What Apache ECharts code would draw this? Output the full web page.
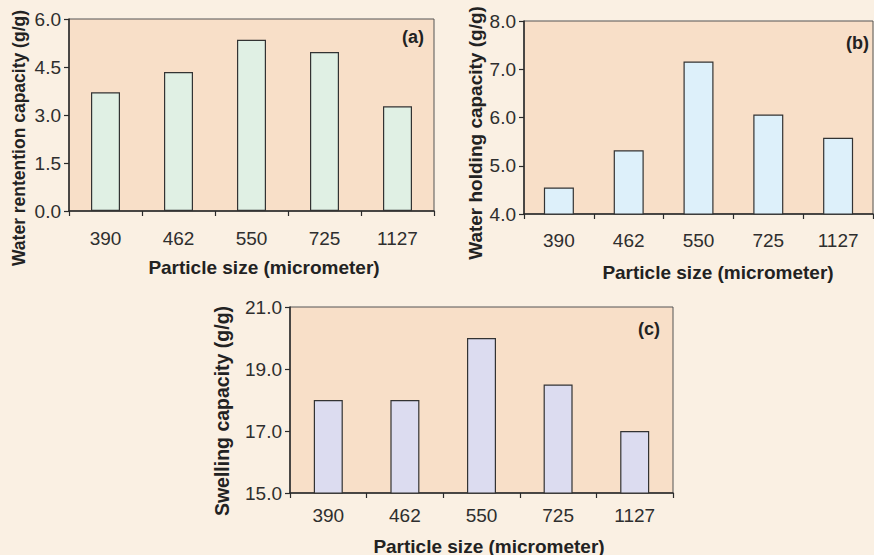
<!DOCTYPE html>
<html>
<head>
<meta charset="utf-8">
<script src="https://cdn.jsdelivr.net/npm/echarts@6/dist/echarts.min.js"></script>
<style>
html,body{margin:0;padding:0;background:#FAF0E3;}
#c{width:874px;height:555px;}
</style>
</head>
<body>
<div id="c"></div>
<script>
const categories = ['390', '462', '550', '725', '1127'];
const retentionValues = [3.71, 4.34, 5.35, 4.97, 3.27];
const holdingValues = [4.55, 5.32, 7.16, 6.06, 5.58];
const swellingValues = [18.0, 18.0, 20.0, 18.5, 17.0];
const retentionTicks = [0, 1.5, 3.0, 4.5, 6.0];
const holdingTicks = [4.0, 5.0, 6.0, 7.0, 8.0];
const swellingTicks = [15.0, 17.0, 19.0, 21.0];
const xTitle = 'Particle size (micrometer)';
const yTitles = ['Water rentention capacity (g/g)', 'Water holding capacity (g/g)', 'Swelling capacity (g/g)'];
const panelLabels = ['(a)', '(b)', '(c)'];

const FONT = "'Liberation Sans', Arial, Helvetica, sans-serif";
const chart = echarts.init(document.getElementById('c'), null, {renderer: 'svg'});

const grids = [
  {left: 69, top: 19, width: 365, height: 192},
  {left: 524, top: 21, width: 349, height: 193},
  {left: 290, top: 307, width: 383, height: 186}
];
const xMargins = [18, 17, 13];
const yAxisDefs = [
  {ticks: retentionTicks},
  {ticks: holdingTicks},
  {ticks: swellingTicks}
];
const barColors = ['#E0F0E4', '#DDF0FA', '#DCDCF0'];
const seriesData = [retentionValues, holdingValues, swellingValues];
const barWidths = [29, 30, 29];

const option = {
  backgroundColor: '#FAF0E3',
  animation: false,
  grid: grids.map(g => Object.assign({show: true, backgroundColor: '#F8DFC8', borderColor: '#555', borderWidth: 1}, g)),
  xAxis: grids.map((g, i) => ({
    type: 'category',
    gridIndex: i,
    data: categories,
    boundaryGap: true,
    axisLine: {lineStyle: {color: '#2a2a2a', width: 1.5}},
    axisTick: {show: true, length: 5, lineStyle: {color: '#2a2a2a', width: 1.2}},
    axisLabel: {color: '#2e2e2e', fontSize: 19, fontFamily: FONT, margin: xMargins[i]},
    splitLine: {show: false}
  })),
  yAxis: yAxisDefs.map((d, i) => ({
    type: 'value',
    gridIndex: i,
    min: d.ticks[0],
    max: d.ticks[d.ticks.length - 1],
    axisLine: {show: true, lineStyle: {color: '#2a2a2a', width: 1.5}},
    axisTick: {show: true, length: 5, customValues: d.ticks, lineStyle: {color: '#2a2a2a', width: 1.2}},
    axisLabel: {color: '#2e2e2e', fontSize: 19, fontFamily: FONT, margin: 8, customValues: d.ticks,
      formatter: v => Number(v).toFixed(1), padding: [4, 0, 0, 0]},
    splitLine: {show: false}
  })),
  series: seriesData.map((vals, i) => ({
    type: 'bar',
    xAxisIndex: i,
    yAxisIndex: i,
    data: vals,
    barWidth: barWidths[i],
    itemStyle: {color: barColors[i], borderColor: '#333', borderWidth: 1.2},
    clip: true
  })),
  graphic: [
    {type: 'text', x: 264, y: 267, style: {text: xTitle, font: 'bold 19px ' + FONT, fill: '#222', textAlign: 'center', textVerticalAlign: 'middle'}},
    {type: 'text', x: 718, y: 272, style: {text: xTitle, font: 'bold 19px ' + FONT, fill: '#222', textAlign: 'center', textVerticalAlign: 'middle'}},
    {type: 'text', x: 489, y: 546, style: {text: xTitle, font: 'bold 19px ' + FONT, fill: '#222', textAlign: 'center', textVerticalAlign: 'middle'}},
    {type: 'text', x: 18.5, y: 138, rotation: Math.PI / 2, style: {text: yTitles[0], font: 'bold 17.5px ' + FONT, fill: '#222', textAlign: 'center', textVerticalAlign: 'middle'}},
    {type: 'text', x: 475, y: 133, rotation: Math.PI / 2, style: {text: yTitles[1], font: 'bold 19px ' + FONT, fill: '#222', textAlign: 'center', textVerticalAlign: 'middle'}},
    {type: 'text', x: 222, y: 411, rotation: Math.PI / 2, style: {text: yTitles[2], font: 'bold 19.5px ' + FONT, fill: '#222', textAlign: 'center', textVerticalAlign: 'middle'}},
    {type: 'text', x: 424, y: 37, style: {text: panelLabels[0], font: 'bold 18px ' + FONT, fill: '#222', textAlign: 'right', textVerticalAlign: 'middle'}},
    {type: 'text', x: 869, y: 43, style: {text: panelLabels[1], font: 'bold 18px ' + FONT, fill: '#222', textAlign: 'right', textVerticalAlign: 'middle'}},
    {type: 'text', x: 660, y: 329, style: {text: panelLabels[2], font: 'bold 18px ' + FONT, fill: '#222', textAlign: 'right', textVerticalAlign: 'middle'}}
  ]
};
chart.setOption(option);
</script>
</body>
</html>
